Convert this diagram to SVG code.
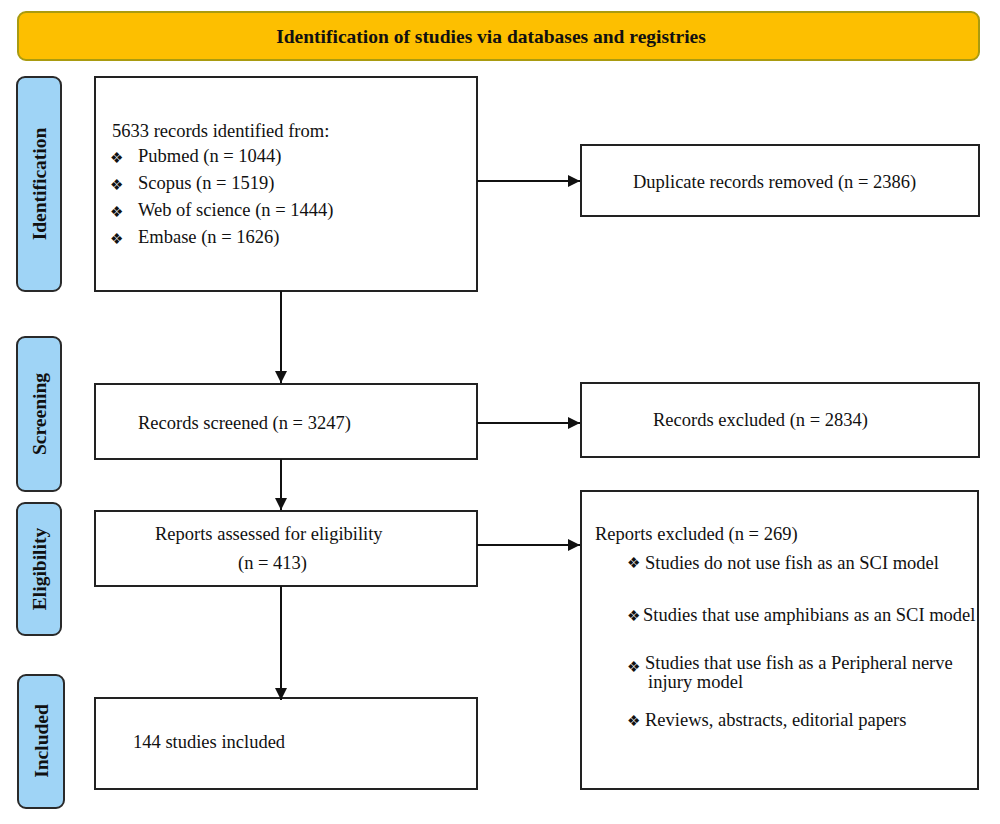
<svg xmlns="http://www.w3.org/2000/svg" width="1000" height="824" viewBox="0 0 1000 824">
<defs>
<marker id="ah" viewBox="0 0 10 10" refX="10" refY="5" markerWidth="12" markerHeight="12" markerUnits="userSpaceOnUse" orient="auto">
<path d="M0,0 L10,5 L0,10 z" fill="#111"/>
</marker>
<style>
.box{fill:#fff;stroke:#222;stroke-width:2}
.stage{fill:#9fd4f6;stroke:#2a2a2a;stroke-width:2}
.t{font-family:"Liberation Serif","DejaVu Serif",serif;font-size:18.5px;fill:#111}
.st{font-family:"Liberation Serif","DejaVu Serif",serif;font-size:19.5px;font-weight:bold;fill:#111}
.b{font-family:"DejaVu Sans","DejaVu Serif",sans-serif;font-size:15px;fill:#111}
.c{stroke:#111;stroke-width:2;fill:none}
</style>
</defs>
<rect width="1000" height="824" fill="#fff"/>
<g id="title">
<rect x="18" y="12" width="961" height="48" rx="8" fill="#fdbf00" stroke="#a99b10" stroke-width="2"/>
<text class="st" x="491" y="43" text-anchor="middle" font-size="18.8">Identification of studies via databases and registries</text>
</g>
<g id="stage-identification">
<rect class="stage" x="17" y="77" width="44" height="214" rx="8"/>
<text class="st" transform="translate(46,184) rotate(-90)" text-anchor="middle">Identification</text>
</g>
<g id="stage-screening">
<rect class="stage" x="17" y="337" width="44" height="154" rx="8"/>
<text class="st" transform="translate(46,414) rotate(-90)" text-anchor="middle">Screening</text>
</g>
<g id="stage-eligibility">
<rect class="stage" x="17" y="503" width="44" height="132" rx="8"/>
<text class="st" transform="translate(46,569) rotate(-90)" text-anchor="middle">Eligibility</text>
</g>
<g id="stage-included">
<rect class="stage" x="18" y="675" width="46" height="133" rx="8"/>
<text class="st" transform="translate(48,741) rotate(-90)" text-anchor="middle">Included</text>
</g>
<g id="records-identified">
<rect class="box" x="95" y="77" width="382" height="214"/>
<text class="t" x="112" y="137">5633 records identified from:</text>
<text class="b" x="110" y="163">&#x2756;&#xFE0E;</text><text class="t" x="138" y="162">Pubmed (n = 1044)</text>
<text class="b" x="110" y="190">&#x2756;&#xFE0E;</text><text class="t" x="138" y="189">Scopus (n = 1519)</text>
<text class="b" x="110" y="217">&#x2756;&#xFE0E;</text><text class="t" x="138" y="216">Web of science (n = 1444)</text>
<text class="b" x="110" y="244">&#x2756;&#xFE0E;</text><text class="t" x="138" y="243">Embase (n = 1626)</text>
</g>
<g id="duplicates">
<rect class="box" x="581" y="145" width="398" height="71"/>
<text class="t" x="633" y="188">Duplicate records removed (n = 2386)</text>
</g>
<g id="records-screened">
<rect class="box" x="95" y="384" width="382" height="75"/>
<text class="t" x="138" y="429">Records screened (n = 3247)</text>
</g>
<g id="records-excluded">
<rect class="box" x="581" y="383" width="398" height="74"/>
<text class="t" x="653" y="426">Records excluded (n = 2834)</text>
</g>
<g id="reports-assessed">
<rect class="box" x="95" y="511" width="382" height="75"/>
<text class="t" x="155" y="540">Reports assessed for eligibility</text>
<text class="t" x="238" y="569">(n = 413)</text>
</g>
<g id="reports-excluded">
<rect class="box" x="581" y="491" width="397" height="298"/>
<text class="t" x="595" y="540">Reports excluded (n = 269)</text>
<text class="b" x="627" y="568">&#x2756;&#xFE0E;</text><text class="t" x="645" y="569">Studies do not use fish as an SCI model</text>
<text class="b" x="627" y="621">&#x2756;&#xFE0E;</text><text class="t" x="643" y="621">Studies that use amphibians as an SCI model</text>
<text class="b" x="627" y="672">&#x2756;&#xFE0E;</text><text class="t" x="645" y="669">Studies that use fish as a Peripheral nerve</text>
<text class="t" x="648" y="688">injury model</text>
<text class="b" x="627" y="726">&#x2756;&#xFE0E;</text><text class="t" x="645" y="726">Reviews, abstracts, editorial papers</text>
</g>
<g id="included">
<rect class="box" x="95" y="698" width="382" height="91"/>
<text class="t" x="133" y="748">144 studies included</text>
</g>
<g id="connectors">
<line class="c" x1="281" y1="291" x2="281" y2="383" marker-end="url(#ah)"/>
<line class="c" x1="281" y1="459" x2="281" y2="510" marker-end="url(#ah)"/>
<line class="c" x1="281" y1="586" x2="281" y2="700" marker-end="url(#ah)"/>
<line class="c" x1="477" y1="181" x2="580" y2="181" marker-end="url(#ah)"/>
<line class="c" x1="477" y1="423" x2="580" y2="423" marker-end="url(#ah)"/>
<line class="c" x1="477" y1="545" x2="580" y2="545" marker-end="url(#ah)"/>
</g>
</svg>
